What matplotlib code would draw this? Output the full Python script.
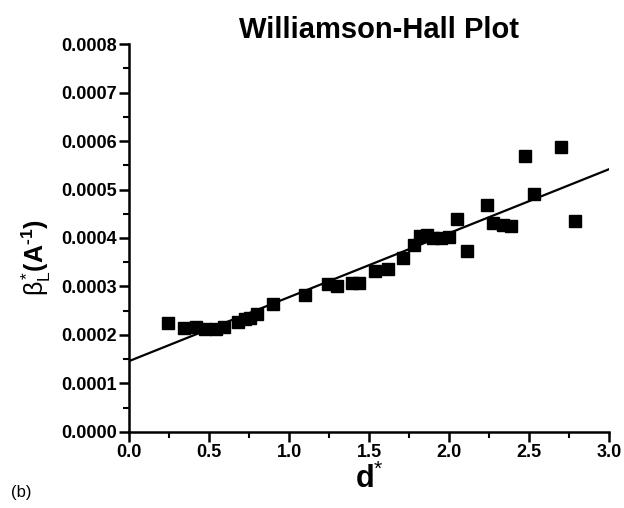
import numpy as np
import matplotlib
matplotlib.use("Agg")
import matplotlib.pyplot as plt

plt.rcParams['font.family'] = ['Liberation Sans', 'DejaVu Sans']
plt.rcParams['mathtext.fontset'] = 'custom'
plt.rcParams['mathtext.rm'] = 'Liberation Sans'
plt.rcParams['mathtext.it'] = 'Liberation Sans'
plt.rcParams['mathtext.bf'] = 'Liberation Sans:bold'

# d* and integral breadth beta_L*
d_star = [0.245, 0.34, 0.42, 0.475, 0.54, 0.59, 0.68, 0.725, 0.755, 0.80,
          0.90, 1.10, 1.24, 1.30, 1.39, 1.44, 1.54, 1.62, 1.71, 1.78,
          1.82, 1.86, 1.90, 1.95, 2.00, 2.05, 2.11, 2.235, 2.275, 2.34,
          2.39, 2.475, 2.53, 2.70, 2.79]
beta_L = [0.000224, 0.000214, 0.000217, 0.000212, 0.000212, 0.000216, 0.000227, 0.000233, 0.000235, 0.000243,
          0.000263, 0.000282, 0.000305, 0.000301, 0.000307, 0.000307, 0.000332, 0.000336, 0.000359, 0.000386,
          0.000405, 0.000407, 0.000399, 0.000400, 0.000402, 0.000440, 0.000373, 0.000469, 0.000430, 0.000427,
          0.000424, 0.000570, 0.000490, 0.000588, 0.000435]

# linear fit
intercept = 0.000146
slope = 0.000132
fit_x = [0.0, 3.0]

fig = plt.figure(figsize=(6.24, 5.08), dpi=100)
ax = fig.add_axes([0.207, 0.150, 0.769, 0.763])

ax.plot(d_star, beta_L, 's', color='black', markersize=8)
ax.plot(fit_x, [intercept + slope * x for x in fit_x], '-', color='black', linewidth=1.6)

ax.set_xlim(0.0, 3.0)
ax.set_ylim(0.0, 0.0008)
ax.set_xticks(np.arange(0, 3.01, 0.5))
ax.set_yticks(np.arange(0, 0.00081, 0.0001))
ax.set_xticks(np.arange(0.25, 3.0, 0.5), minor=True)
ax.set_yticks(np.arange(0.00005, 0.0008, 0.0001), minor=True)
ax.xaxis.set_major_formatter(matplotlib.ticker.FormatStrFormatter('%.1f'))
ax.yaxis.set_major_formatter(matplotlib.ticker.FormatStrFormatter('%.4f'))

for s in ['top', 'right']:
    ax.spines[s].set_visible(False)
for s in ['left', 'bottom']:
    ax.spines[s].set_linewidth(1.8)

ax.tick_params(which='major', direction='out', length=7, width=1.8, labelsize=13, pad=2)
ax.tick_params(which='minor', direction='out', length=4, width=1.5)
for lab in ax.get_xticklabels() + ax.get_yticklabels():
    lab.set_fontweight('bold')

ax.set_title('Williamson-Hall Plot', fontsize=21, fontweight='bold', pad=2, x=0.52)
ax.set_xlabel(r'$\mathbf{d}^{*}$', fontsize=22, labelpad=2)
ax.set_ylabel('$\\beta_{L}^{*}\\mathbf{(A^{\u2010 1})}$', fontsize=18, labelpad=6, y=0.45)
fig.text(0.018, 0.022, '(b)', fontsize=12)

fig.savefig('out.png', dpi=100)
